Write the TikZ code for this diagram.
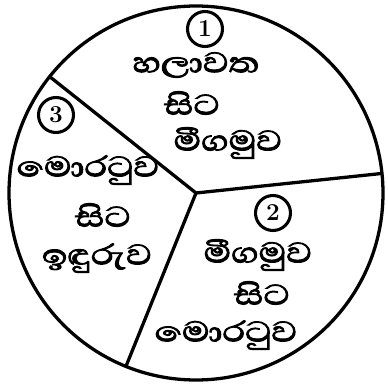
\documentclass[tikz,border=0pt]{standalone}
\usepackage{fontspec}
\newfontfamily\sinhala[Script=Sinhala, FakeBold=2.5]{Abhaya Libre}
\newcommand{\widen}[1]{\scalebox{1.25}[1]{#1}}
\usetikzlibrary{positioning}

\begin{document}
\begin{tikzpicture}[
        x=0.03cm, y=0.03cm,
        place/.style={font=\sinhala\fontsize{31}{36}\selectfont, inner sep=0pt},
        num/.style={circle, draw=black, line width=2.6pt, inner sep=0pt, minimum size=1.05cm, font=\huge\bfseries},
        rim/.style={line width=2.8pt}
    ]
    \useasboundingbox (0,0) rectangle (388,383);
    \coordinate (c) at (196,190);
    \coordinate (e1) at ([shift={(141.5:187)}]c);
    \coordinate (e2) at ([shift={(6:187)}]c);
    \coordinate (e3) at ([shift={(248:187)}]c);

    \draw[rim] (c) circle[radius=187];
    \draw[rim] (c) -- (e1);
    \draw[rim] (c) -- (e2);
    \draw[rim] (c) -- (e3);

    % Sector 1
    \node[num] (n1) at (205,354) {1};
    \node[place] (a1) at (196,318) {\widen{හලාවත}};
    \node[place] (b1) at (192,280) {\widen{සිට}};
    \node[place] (c1) at (228,240) {\widen{මීගමුව}};

    % Sector 2
    \node[num] (n2) at (273,170) {2};
    \node[place] (a2) at (258,128) {\widen{මීගමුව}};
    \node[place] (b2) at (262,90) {\widen{සිට}};
    \node[place] (c2) at (226,48) {\widen{මොරටුව}};

    % Sector 3
    \node[num] (n3) at (56,268) {3};
    \node[place] (a3) at (88,213) {\widen{මොරටුව}};
    \node[place] (b3) at (103,168) {\widen{සිට}};
    \node[place] (c3) at (97,125) {\widen{ඉඳුරුව}};
\end{tikzpicture}
\end{document}
